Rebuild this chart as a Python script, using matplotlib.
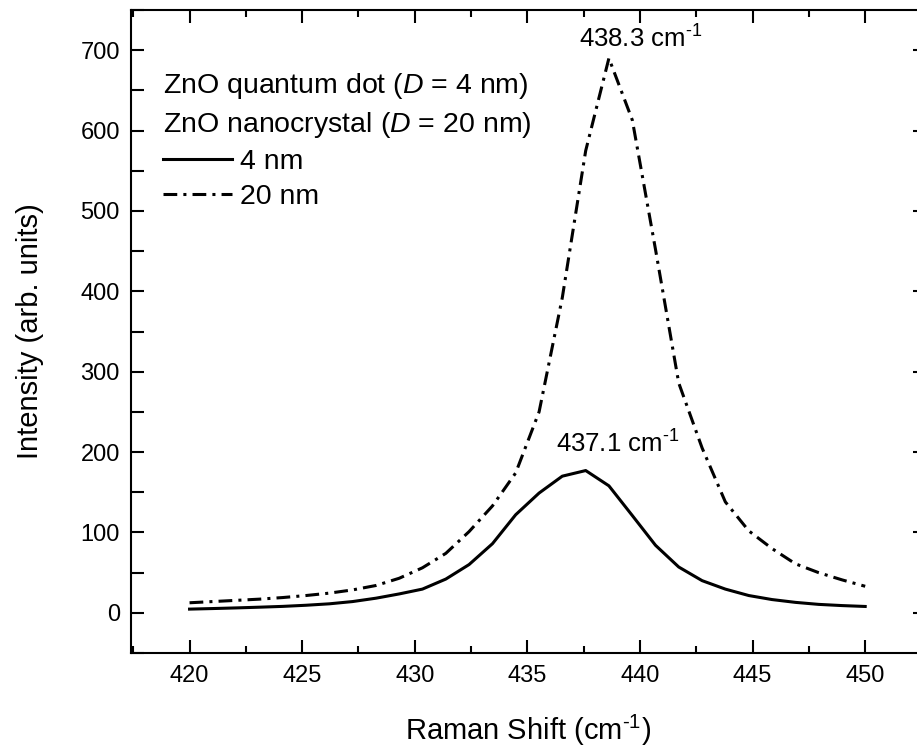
import matplotlib
matplotlib.use("Agg")
import matplotlib.pyplot as plt
from matplotlib.ticker import MultipleLocator

plt.rcParams['font.family'] = ['Liberation Sans', 'DejaVu Sans']
plt.rcParams['mathtext.fontset'] = 'custom'
plt.rcParams['mathtext.rm'] = 'Liberation Sans'
plt.rcParams['mathtext.it'] = 'Liberation Sans:italic'

# Raman shift grid (cm^-1)
shift = [420.00, 421.03, 422.07, 423.10, 424.14, 425.17, 426.21, 427.24, 428.28, 429.31,
         430.34, 431.38, 432.41, 433.45, 434.48, 435.52, 436.55, 437.59, 438.62, 439.66,
         440.69, 441.72, 442.76, 443.79, 444.83, 445.86, 446.90, 447.93, 448.97, 450.00]

# 4 nm quantum dot
qd_4nm = [4.6, 5.3, 6.1, 7.0, 8.0, 9.4, 11.2, 14.0, 18.2, 23.5,
          29.5, 42, 60, 86, 122, 149, 170, 177, 158, 121,
          84, 57, 40, 29.5, 21.5, 16.5, 13.0, 10.5, 9.0, 7.9]

# 20 nm nanocrystal
nc_20nm = [12.5, 14.0, 15.5, 17.0, 19.0, 21.5, 24.5, 28.5, 34, 43,
           56, 74, 101, 133, 174, 250, 392, 575, 690, 613,
           452, 286, 205, 138, 102, 80, 61, 50, 41, 33]

W, H = 917, 746
fig = plt.figure(figsize=(W / 100, H / 100), dpi=100)
# right spine lies just outside the picture, as in the original
ax = fig.add_axes([131 / W, 1 - 653 / H, (926 - 131) / W, (653 - 10) / H])

ax.plot(shift, qd_4nm, color='black', lw=2.2, label='4 nm')
ax.plot(shift, nc_20nm, color='black', lw=2.2, dashes=[4.5, 2, 1, 2], label='20 nm')

ax.set_xlim(417.4, 452.7)
ax.set_ylim(-50, 750)
ax.xaxis.set_major_locator(MultipleLocator(5))
ax.xaxis.set_minor_locator(MultipleLocator(2.5))
ax.set_xticks(range(420, 451, 5))
ax.yaxis.set_major_locator(MultipleLocator(100))
ax.yaxis.set_minor_locator(MultipleLocator(50))
ax.set_yticks(range(0, 701, 100))

for s in ax.spines.values():
    s.set_linewidth(1.5)

ax.tick_params(axis='x', which='major', direction='in', length=9.4, width=1.5,
               labelsize=17, pad=9, top=True)
ax.tick_params(axis='x', which='minor', direction='in', length=5, width=1.5, top=True)
ax.tick_params(axis='y', which='both', direction='in', length=9.4, width=1.5,
               labelsize=17, pad=8, right=False)

right = ax.secondary_yaxis('right')
right.set_yticks(range(0, 701, 100))
right.tick_params(direction='in', length=9.4, width=1.5, labelright=False)

inv = r'$^{\text{-}1}$'
ax.set_xlabel('Raman Shift (cm' + inv + ')', fontsize=21, labelpad=18)
ax.set_ylabel('Intensity (arb. units)', fontsize=21, labelpad=26)

fs_leg = 20.5
fig.text(163 / W, 1 - 93 / H, 'ZnO quantum dot ($D$ = 4 nm)', fontsize=fs_leg, va='baseline')
fig.text(163 / W, 1 - 132 / H, 'ZnO nanocrystal ($D$ = 20 nm)', fontsize=fs_leg, va='baseline')

ax.legend(loc='upper left', bbox_to_anchor=(163 / W, 1 - 149 / H),
          bbox_transform=fig.transFigure, frameon=False, fontsize=fs_leg,
          handlelength=2.42, handletextpad=0.28, borderpad=0, borderaxespad=0,
          labelspacing=0.33)

ax.text(437.3, 703, '438.3 cm' + inv, fontsize=18.5, ha='left', va='baseline')
ax.text(436.25, 199, '437.1 cm' + inv, fontsize=18.5, ha='left', va='baseline')

fig.savefig('out.png', dpi=100)
